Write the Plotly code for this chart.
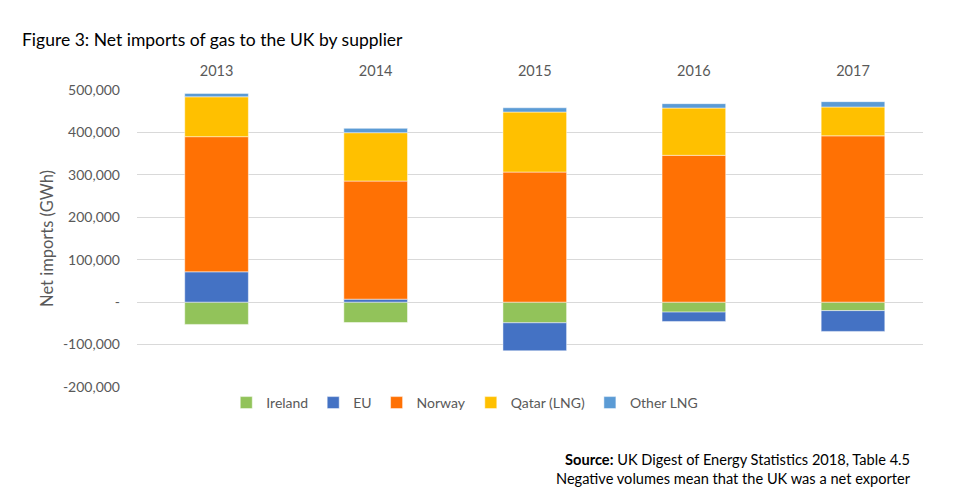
"""Figure 3: Net imports of gas to the UK by supplier (stacked bars)."""

import plotly.graph_objects as go

# Values in GWh
years = ["2013", "2014", "2015", "2016", "2017"]
ireland = [-52500, -48000, -48700, -23500, -20000]
eu = [71500, 7000, -66000, -22000, -49000]
norway = [318500, 278400, 306600, 346000, 392000]
qatar_lng = [94000, 114000, 141500, 111500, 68000]
other_lng = [8000, 10200, 10000, 10300, 12500]

y_ticks = [-200000, -100000, 0, 100000, 200000, 300000, 400000, 500000]
y_tick_text = ["-200,000", "-100,000", "-", "100,000", "200,000",
               "300,000", "400,000", "500,000"]

series = [
    ("Ireland", ireland, "#92C35A"),
    ("EU", eu, "#4472C4"),
    ("Norway", norway, "#FF7104"),
    ("Qatar (LNG)", qatar_lng, "#FFC000"),
    ("Other LNG", other_lng, "#5B9BD5"),
]

FONT = "Lato, 'Open Sans', sans-serif"
GREY = "#595959"

fig = go.Figure()
for name, vals, colour in series:
    fig.add_trace(go.Bar(
        x=years, y=vals, name=name,
        marker=dict(color=colour, line=dict(color="rgba(255,255,255,0.6)", width=0.8)),
        width=0.4,
    ))

# the page body has an 8px margin, so margins are offset to compensate
fig.update_layout(
    barmode="relative",
    width=965, height=504,
    margin=dict(l=129, r=50, t=82, b=125),
    paper_bgcolor="white",
    plot_bgcolor="white",
    font=dict(family=FONT, color=GREY, size=14),
    showlegend=True,
    legend=dict(
        orientation="h",
        x=0.417, xanchor="center",
        y=0.0, yanchor="top",
        font=dict(size=14, color=GREY),
        traceorder="normal",
        itemwidth=30,
    ),
    xaxis=dict(
        side="top",
        range=[-0.5, 4.44],
        automargin=False,
        showgrid=False, showline=False, zeroline=False,
        ticks="", ticklabelstandoff=10,
        tickfont=dict(size=14.5, color=GREY),
    ),
    yaxis=dict(
        range=[-200000, 500000],
        automargin=False,
        tickvals=y_ticks, ticktext=y_tick_text,
        gridcolor="#D9D9D9", gridwidth=1,
        zeroline=True, zerolinecolor="#D9D9D9", zerolinewidth=1,
        showline=False, ticks="", ticklabelstandoff=16,
        tickfont=dict(size=14, color=GREY),
        title=dict(text="Net imports (GWh)", font=dict(size=16.5, color=GREY), standoff=5),
    ),
)

fig.add_annotation(
    text="Figure 3: Net imports of gas to the UK by supplier",
    xref="paper", yref="paper", x=-0.149, y=1.0, xanchor="left", yanchor="bottom",
    yshift=38, showarrow=False,
    font=dict(family=FONT, size=17.5, color="black"),
)
fig.add_annotation(
    text="<b>Source:</b> UK Digest of Energy Statistics 2018, Table 4.5<br>"
         "Negative volumes mean that the UK was a net exporter",
    xref="paper", yref="paper", x=0.987, y=0, xanchor="right", yanchor="top",
    yshift=-62, align="right", showarrow=False,
    font=dict(family=FONT, size=14.6, color="black"),
)

fig.write_html("out.html")
